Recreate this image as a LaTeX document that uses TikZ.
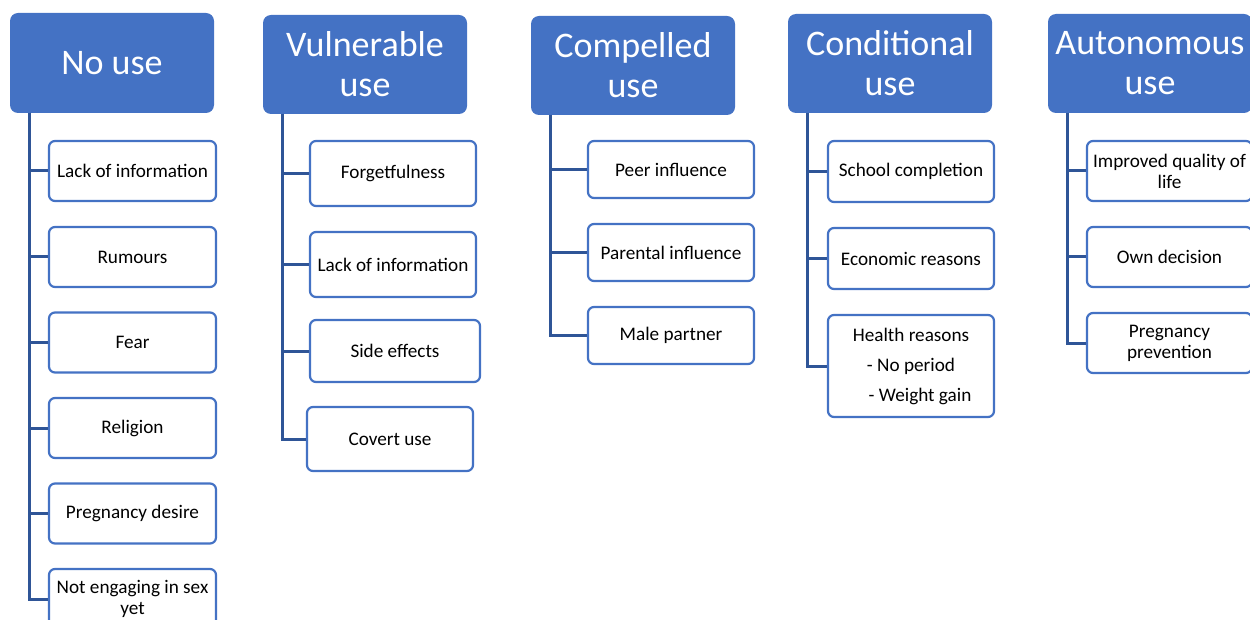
\documentclass[tikz,border=0pt]{standalone}
\usepackage{fontspec}
\setmainfont{Carlito}
\definecolor{hdrblue}{HTML}{4472C4}
\definecolor{connblue}{HTML}{2F5597}
\tikzset{
  hdr/.style={fill=hdrblue, draw=none, rounded corners=8pt, text=white, align=center,
    inner sep=0pt, font=\fontsize{36}{40}\selectfont, minimum width=204pt},
  item/.style={fill=white, draw=hdrblue, line width=2.2pt, rounded corners=6pt, text=black,
    align=center, inner sep=0pt, font=\fontsize{19.2}{21}\selectfont},
  conn/.style={draw=connblue, line width=3pt}
}
\begin{document}
\begin{tikzpicture}[x=1pt,y=-1pt]
\useasboundingbox (0,0) rectangle (1250,620);
\clip (0,0) rectangle (1250,620);
% headers
\node[hdr, minimum height=100pt] (h1) at (112,63) {No use};
\node[hdr, minimum height=99pt] (h2) at (365,64.5) {Vulnerable\\use};
\node[hdr, minimum height=99pt] (h3) at (633,65.5) {Compelled\\use};
\node[hdr, minimum height=99pt] (h4) at (890,63.5) {Conditional\\use};
\node[hdr, minimum height=99pt] (h5) at (1150,63.5) {Autonomous\\use};
% trunk starts
\coordinate (t1) at (29,113);
\coordinate (t2) at (282,114);
\coordinate (t3) at (550,115);
\coordinate (t4) at (807,113);
\coordinate (t5) at (1067,113);
% No use
\node[item, minimum width=167pt, minimum height=60pt] (a1) at (132.5,171) {Lack of information};
\node[item, minimum width=167pt, minimum height=60pt] (a2) at (132.5,257) {Rumours};
\node[item, minimum width=167pt, minimum height=60pt] (a3) at (132.5,342.5) {Fear};
\node[item, minimum width=167pt, minimum height=60pt] (a4) at (132.5,428) {Religion};
\node[item, minimum width=167pt, minimum height=60pt] (a5) at (132.5,513.5) {Pregnancy desire};
\node[item, minimum width=167pt, minimum height=60pt] (a6) at (132.5,599) {Not engaging in sex\\yet};
% Vulnerable use
\node[item, minimum width=166pt, minimum height=65pt] (b1) at (393,173.5) {Forgetfulness};
\node[item, minimum width=166pt, minimum height=65pt] (b2) at (393,264.5) {Lack of information};
\node[item, minimum width=170pt, minimum height=62pt] (b3) at (395,351) {Side effects};
\node[item, minimum width=166pt, minimum height=64pt] (b4) at (390,439) {Covert use};
% Compelled use
\node[item, minimum width=166pt, minimum height=57pt] (c1) at (671,169.5) {Peer influence};
\node[item, minimum width=166pt, minimum height=57pt] (c2) at (671,252.5) {Parental influence};
\node[item, minimum width=166pt, minimum height=57pt] (c3) at (671,335.5) {Male partner};
% Conditional use
\node[item, minimum width=166pt, minimum height=61pt] (d1) at (911,171.5) {School completion};
\node[item, minimum width=166pt, minimum height=61pt] (d2) at (911,258.5) {Economic reasons};
\node[item, minimum width=166pt, minimum height=102pt] (d3) at (911,366) {Health reasons\\[9pt]- No period\\[9pt]\hspace*{18pt}- Weight gain};
% Autonomous use
\node[item, minimum width=165pt, minimum height=60pt] (e1) at (1169.5,171) {Improved quality of\\life};
\node[item, minimum width=165pt, minimum height=60pt] (e2) at (1169.5,257) {Own decision};
\node[item, minimum width=165pt, minimum height=60pt] (e3) at (1169.5,343) {Pregnancy\\prevention};
% connectors
\foreach \n in {a1,a2,a3,a4,a5,a6} \draw[conn] (t1) |- (\n.west);
\foreach \n in {b1,b2,b3,b4} \draw[conn] (t2) |- (\n.west);
\foreach \n in {c1,c2,c3} \draw[conn] (t3) |- (\n.west);
\foreach \n in {d1,d2,d3} \draw[conn] (t4) |- (\n.west);
\foreach \n in {e1,e2,e3} \draw[conn] (t5) |- (\n.west);
\end{tikzpicture}
\end{document}
